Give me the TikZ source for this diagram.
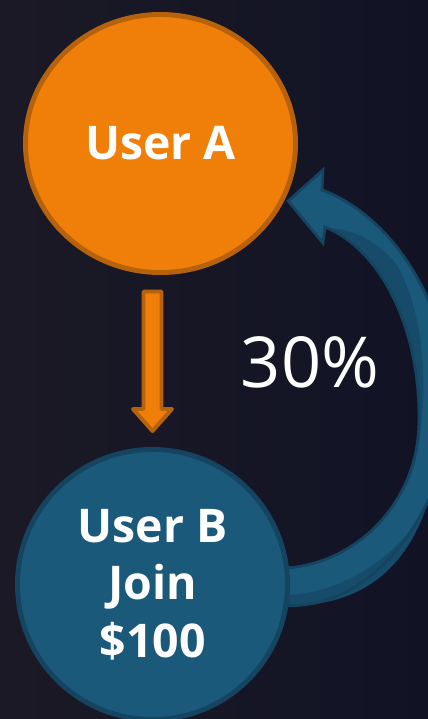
\documentclass[tikz,border=0pt]{standalone}
\usepackage{fontspec}
\setmainfont{Open Sans}
\definecolor{refbg}{RGB}{22,20,31}
\definecolor{refbgl}{RGB}{27,25,37}
\definecolor{refbgr}{RGB}{17,19,37}
\definecolor{refora}{RGB}{239,127,9}
\definecolor{reforadk}{RGB}{182,98,12}
\definecolor{refblu}{RGB}{27,89,122}
\definecolor{refbludk}{RGB}{20,68,96}
\definecolor{refblumd}{RGB}{22,76,106}
\usetikzlibrary{shapes.geometric, positioning, calc}
\pgfdeclarelayer{bg}
\pgfdeclarelayer{mid}
\pgfsetlayers{bg,mid,main}

\begin{document}
\begin{tikzpicture}[x=0.025cm, y=-0.025cm,
  user/.style={ellipse, inner sep=0pt, minimum width=6.75cm, minimum height=6.45cm,
    line width=3.5pt, text=white, align=center,
    font=\bfseries\fontsize{33}{41}\selectfont},
  downarrow/.style={fill=refora, draw=reforadk, line width=2.8pt, line join=round},
  backarrow/.style={line width=2pt, line join=miter}]
\useasboundingbox (0,0) rectangle (428,719);
\clip (0,0) rectangle (428,719);
\begin{pgfonlayer}{bg}
\shade[left color=refbgl, right color=refbgr] (0,0) rectangle (428,719);
\end{pgfonlayer}

\node[user, fill=refora, draw=reforadk] (usera) at (160.5,143.5) {User A};
\node[user, minimum height=6.75cm, fill=refblu, draw=refbludk] (userb) at (152.5,584.5) {User B\\Join\\\$100};
\node[text=white, font=\fontsize{50}{60}\selectfont] (pct) at (310,362) {30\%};

\begin{pgfonlayer}{mid}
\coordinate (atop) at ($(userb.north |- usera.south)+(0,16.5)$);
\coordinate (abot) at ($(userb.north)+(0,-16)$);
\draw[downarrow] ($(atop)+(-9,0)$) -- ($(atop)+(9,0)$) -- ($(abot)+(9,-22)$)
  -- ($(abot)+(19.5,-22)$) -- (abot) -- ($(abot)+(-19.5,-22)$)
  -- ($(abot)+(-9,-22)$) -- cycle;

\coordinate (btip) at ($(usera.-24)+(3,2)$);
\path[save path=\backpath] ($(userb.east)+(-20,21)$) -- ($(userb.east)+(2,21)$)
  .. controls (380,605) and (452,500) .. (450,400)
  .. controls (448,300) and (390,215) .. (322,190) -- (323,170) -- (btip)
  -- (323,243) -- (325,227)
  .. controls (382,250) and (420,330) .. (419,420)
  .. controls (419,500) and (360,560) .. ($(userb.east)+(2,-17)$)
  -- ($(userb.east)+(-20,-17)$) -- cycle;
\fill[refblu, use path=\backpath];
\fill[refblumd] (328,228) .. controls (382,250) and (420,330) .. (419,420)
  .. controls (419,450) and (415,470) .. (407,485)
  .. controls (427,440) and (434,330) .. (397,265)
  .. controls (377,240) and (350,228) .. (328,228) -- cycle;
\fill[refblumd] ($(userb.east)+(-20,21)$) -- ($(userb.east)+(2,21)$)
  .. controls (350,605) and (402,580) .. (427,505)
  .. controls (397,560) and (340,592) .. ($(userb.east)+(2,10)$)
  -- ($(userb.east)+(-20,10)$) -- cycle;
\draw[backarrow, refbludk, use path=\backpath];
\end{pgfonlayer}
\end{tikzpicture}
\end{document}
